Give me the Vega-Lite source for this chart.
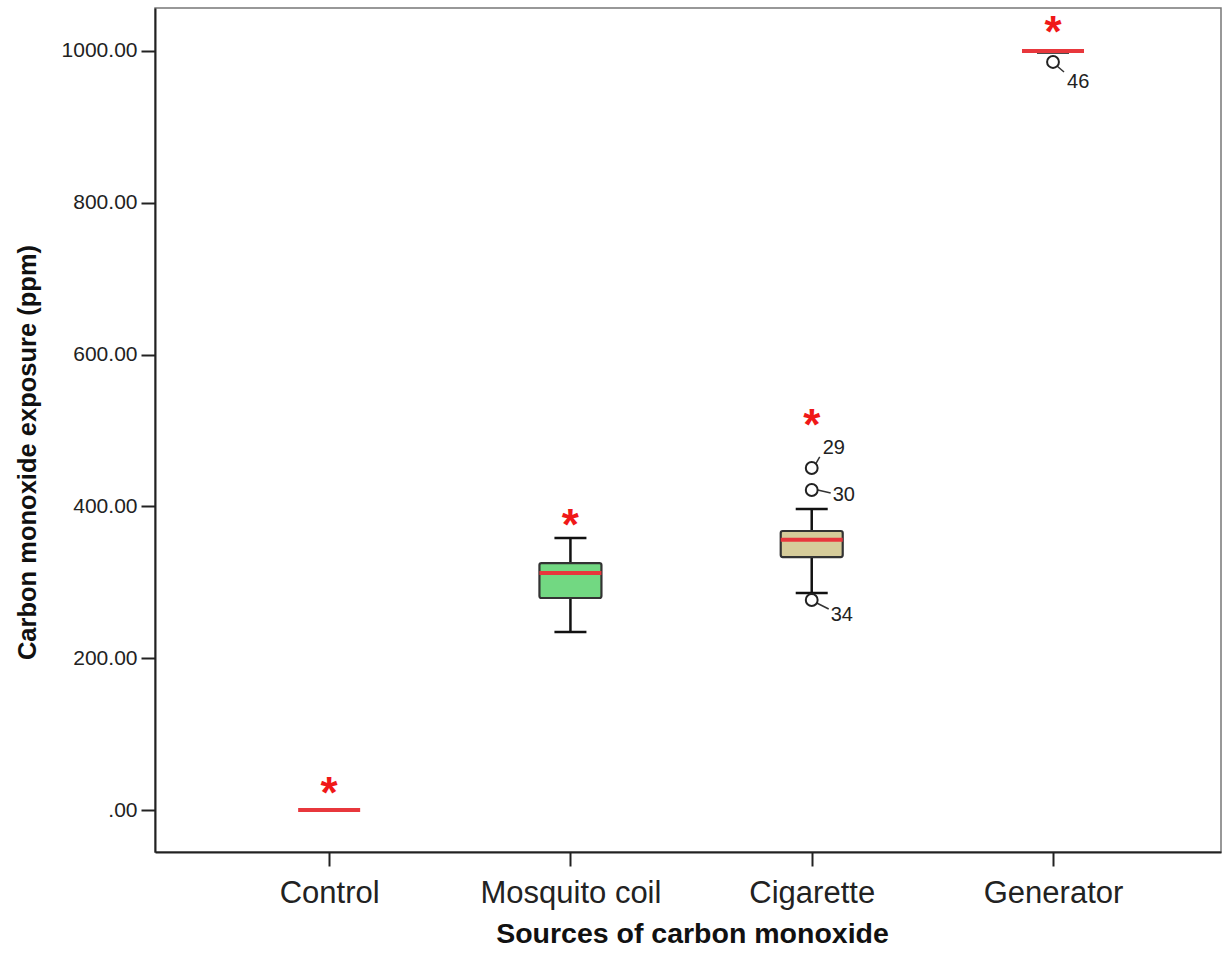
{
  "$schema": "https://vega.github.io/schema/vega-lite/v6.json",
  "width": 1066,
  "height": 844,
  "autosize": "none",
  "padding": {"left": 155, "top": 8, "right": 6, "bottom": 106},
  "background": "white",
  "config": {
    "view": {"stroke": "#777", "strokeWidth": 1.5},
    "font": "Liberation Sans",
    "axis": {"grid": false, "domainColor": "#222", "domainWidth": 2, "tickColor": "#222", "tickWidth": 2, "tickSize": 14, "labelColor": "#222", "labelFont": "Liberation Sans", "titleFont": "Liberation Sans", "titleColor": "#111", "labelLimit": 500}
  },
  "datasets": {
    "stats": [
      {"source": "Control", "lower": null, "q1": null, "median": 0, "q3": null, "upper": null},
      {"source": "Mosquito coil", "lower": 234.5, "q1": 279.3, "median": 312.3, "q3": 325.4, "upper": 358.4},
      {"source": "Cigarette", "lower": 286, "q1": 333.3, "median": 356, "q3": 367.6, "upper": 396.6},
      {"source": "Generator", "lower": 998, "q1": null, "median": 1000, "q3": null, "upper": 1000}
    ],
    "outliers": [
      {"source": "Cigarette", "value": 450.6, "id": "29"},
      {"source": "Cigarette", "value": 421.6, "id": "30"},
      {"source": "Cigarette", "value": 276.7, "id": "34"},
      {"source": "Generator", "value": 985.5, "id": "46"}
    ],
    "signif": [
      {"source": "Control", "mark": "*", "at": 31.6},
      {"source": "Mosquito coil", "mark": "*", "at": 384.7},
      {"source": "Cigarette", "mark": "*", "at": 516.5},
      {"source": "Generator", "mark": "*", "at": 1034}
    ]
  },
  "encoding": {
    "x": {
      "field": "source", "type": "nominal",
      "sort": ["Control", "Mosquito coil", "Cigarette", "Generator"],
      "scale": {"type": "point", "padding": 0.709, "align": 0.509, "domain": ["Control", "Mosquito coil", "Cigarette", "Generator"]},
      "axis": {"title": "Sources of carbon monoxide", "labelAngle": 0, "labelFontSize": 31, "labelBaseline": "alphabetic", "labelPadding": 36, "titleFontSize": 28.5, "titleFontWeight": "bold", "titleBaseline": "alphabetic", "titleX": 537, "titleY": 90}
    }
  },
  "layer": [
    {
      "data": {"name": "stats"},
      "mark": {"type": "rule", "color": "#111", "strokeWidth": 2.5, "opacity": 1},
      "encoding": {
        "y": {"field": "lower", "type": "quantitative",
          "scale": {"domain": [-55.3, 1056.6], "nice": false, "zero": false},
          "axis": {"title": "Carbon monoxide exposure (ppm)", "values": [0, 200, 400, 600, 800, 1000], "labelExpr": "datum.value == 0 ? '.00' : format(datum.value, '.2f')", "labelFontSize": 21, "labelPadding": 4, "titleFontSize": 25.5, "titleFontWeight": "bold", "titleAngle": -90, "titleBaseline": "alphabetic", "titleX": -120, "titleY": 444}},
        "y2": {"field": "upper"}
      }
    },
    {
      "data": {"name": "stats"},
      "mark": {"type": "tick", "color": "#111", "size": 32, "thickness": 2.5, "opacity": 1},
      "encoding": {"y": {"field": "lower", "type": "quantitative"}}
    },
    {
      "data": {"name": "stats"},
      "mark": {"type": "tick", "color": "#111", "size": 32, "thickness": 2.5, "opacity": 1},
      "encoding": {"y": {"field": "upper", "type": "quantitative"}}
    },
    {
      "data": {"name": "stats"},
      "mark": {"type": "bar", "size": 62, "stroke": "#333", "strokeWidth": 2.2, "cornerRadius": 2, "opacity": 1},
      "encoding": {
        "y": {"field": "q1", "type": "quantitative"},
        "y2": {"field": "q3"},
        "color": {"field": "source", "type": "nominal", "legend": null,
          "scale": {"domain": ["Mosquito coil", "Cigarette"], "range": ["#72d882", "#d6cc9a"]}}
      }
    },
    {
      "data": {"name": "stats"},
      "mark": {"type": "tick", "color": "#e8373c", "size": 62, "thickness": 4, "opacity": 1},
      "encoding": {"y": {"field": "median", "type": "quantitative"}}
    },
    {
      "data": {"name": "outliers"},
      "transform": [{"filter": "datum.id == '29'"}],
      "mark": {"type": "rule", "color": "#333", "strokeWidth": 1.5, "xOffset": 4, "yOffset": -4, "x2Offset": 8, "y2Offset": -11},
      "encoding": {"y": {"field": "value", "type": "quantitative"}, "y2": {"field": "value"}, "x2": {"field": "source"}}
    },
    {
      "data": {"name": "outliers"},
      "transform": [{"filter": "datum.id == '30'"}],
      "mark": {"type": "rule", "color": "#333", "strokeWidth": 1.5, "xOffset": 6, "yOffset": 0, "x2Offset": 19, "y2Offset": 3},
      "encoding": {"y": {"field": "value", "type": "quantitative"}, "y2": {"field": "value"}, "x2": {"field": "source"}}
    },
    {
      "data": {"name": "outliers"},
      "transform": [{"filter": "datum.id == '34'"}],
      "mark": {"type": "rule", "color": "#333", "strokeWidth": 1.5, "xOffset": 5, "yOffset": 3, "x2Offset": 17, "y2Offset": 9},
      "encoding": {"y": {"field": "value", "type": "quantitative"}, "y2": {"field": "value"}, "x2": {"field": "source"}}
    },
    {
      "data": {"name": "outliers"},
      "transform": [{"filter": "datum.id == '46'"}],
      "mark": {"type": "rule", "color": "#333", "strokeWidth": 1.5, "xOffset": 4, "yOffset": 4, "x2Offset": 11, "y2Offset": 10},
      "encoding": {"y": {"field": "value", "type": "quantitative"}, "y2": {"field": "value"}, "x2": {"field": "source"}}
    },
    {
      "data": {"name": "outliers"},
      "mark": {"type": "point", "shape": "circle", "filled": false, "size": 140, "stroke": "#222", "strokeWidth": 2, "opacity": 1},
      "encoding": {"y": {"field": "value", "type": "quantitative"}}
    },
    {
      "data": {"name": "outliers"},
      "transform": [{"filter": "datum.id == '29'"}],
      "mark": {"type": "text", "fontSize": 20, "color": "#222", "align": "left", "baseline": "middle", "dx": 11, "dy": -20},
      "encoding": {"y": {"field": "value", "type": "quantitative"}, "text": {"field": "id"}}
    },
    {
      "data": {"name": "outliers"},
      "transform": [{"filter": "datum.id == '30'"}],
      "mark": {"type": "text", "fontSize": 20, "color": "#222", "align": "left", "baseline": "middle", "dx": 21, "dy": 5},
      "encoding": {"y": {"field": "value", "type": "quantitative"}, "text": {"field": "id"}}
    },
    {
      "data": {"name": "outliers"},
      "transform": [{"filter": "datum.id == '34'"}],
      "mark": {"type": "text", "fontSize": 20, "color": "#222", "align": "left", "baseline": "middle", "dx": 19, "dy": 15},
      "encoding": {"y": {"field": "value", "type": "quantitative"}, "text": {"field": "id"}}
    },
    {
      "data": {"name": "outliers"},
      "transform": [{"filter": "datum.id == '46'"}],
      "mark": {"type": "text", "fontSize": 20, "color": "#222", "align": "left", "baseline": "middle", "dx": 14, "dy": 20},
      "encoding": {"y": {"field": "value", "type": "quantitative"}, "text": {"field": "id"}}
    },
    {
      "data": {"name": "signif"},
      "mark": {"type": "text", "fontSize": 44, "fontWeight": "bold", "color": "#f01818", "align": "center", "baseline": "alphabetic", "dy": 22},
      "encoding": {"y": {"field": "at", "type": "quantitative"}, "text": {"field": "mark"}}
    }
  ]
}
